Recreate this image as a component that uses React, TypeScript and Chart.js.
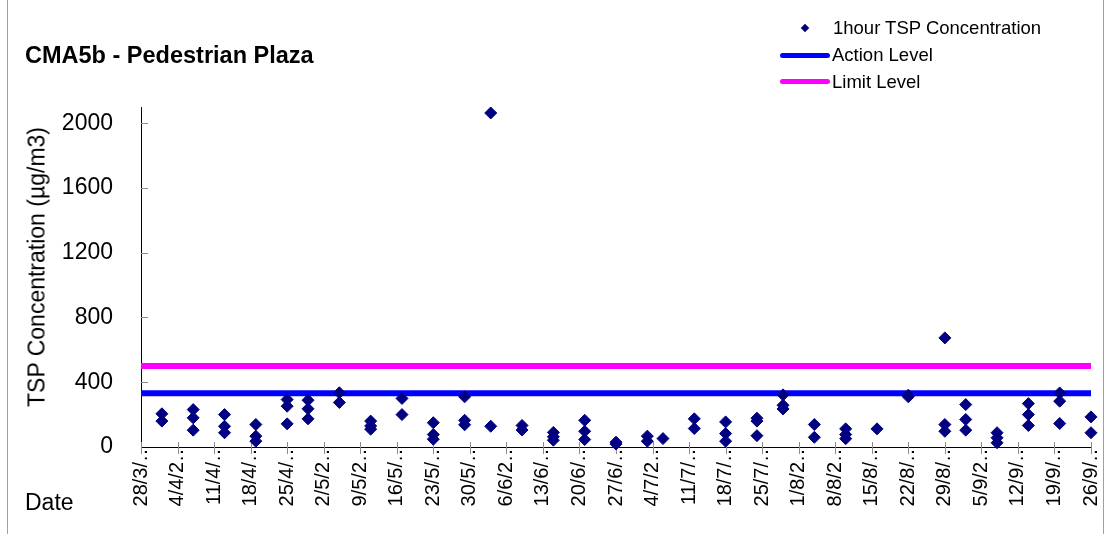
import React, { useEffect, useRef } from "react";
import { Chart, registerables } from "chart.js";

Chart.register(...registerables);

// ---------- data ----------
const START_DATE = "28/3/2022";
const END_DATE = "26/9/2022";

const sampleDates = [
  "1/4/2022", "1/4/2022",
  "7/4/2022", "7/4/2022", "7/4/2022",
  "13/4/2022", "13/4/2022", "13/4/2022",
  "19/4/2022", "19/4/2022", "19/4/2022",
  "25/4/2022", "25/4/2022", "25/4/2022",
  "29/4/2022", "29/4/2022", "29/4/2022",
  "5/5/2022", "5/5/2022",
  "11/5/2022", "11/5/2022", "11/5/2022",
  "17/5/2022", "17/5/2022",
  "23/5/2022", "23/5/2022", "23/5/2022",
  "29/5/2022", "29/5/2022", "29/5/2022",
  "3/6/2022", "3/6/2022",
  "9/6/2022", "9/6/2022",
  "15/6/2022", "15/6/2022", "15/6/2022",
  "21/6/2022", "21/6/2022", "21/6/2022",
  "27/6/2022", "27/6/2022",
  "3/7/2022", "3/7/2022",
  "6/7/2022",
  "12/7/2022", "12/7/2022",
  "18/7/2022", "18/7/2022", "18/7/2022",
  "24/7/2022", "24/7/2022", "24/7/2022",
  "29/7/2022", "29/7/2022", "29/7/2022",
  "4/8/2022", "4/8/2022",
  "10/8/2022", "10/8/2022", "10/8/2022",
  "16/8/2022",
  "22/8/2022", "22/8/2022",
  "29/8/2022", "29/8/2022", "29/8/2022",
  "2/9/2022", "2/9/2022", "2/9/2022",
  "8/9/2022", "8/9/2022", "8/9/2022",
  "14/9/2022", "14/9/2022", "14/9/2022",
  "20/9/2022", "20/9/2022", "20/9/2022",
  "26/9/2022", "26/9/2022",
];

const tspValues = [
  205, 160,
  231, 180, 104,
  200, 128, 88,
  139, 67, 36,
  293, 252, 143,
  289, 236, 174,
  335, 275,
  160, 130, 110,
  300, 200,
  150, 77, 48,
  310, 165, 137,
  2063, 128,
  133, 105,
  90, 63, 42,
  165, 97, 46,
  30, 18,
  67, 36,
  52,
  174, 114,
  155, 83, 36,
  178, 160, 70,
  322, 258, 235,
  139, 60,
  112, 77, 51,
  112,
  320, 310,
  674, 139, 97,
  262, 170, 104,
  88, 57, 26,
  268, 200, 133,
  334, 283, 145,
  186, 88,
];

const xTickLabels = [
  "28/3/…", "4/4/2…", "11/4/…", "18/4/…", "25/4/…", "2/5/2…", "9/5/2…",
  "16/5/…", "23/5/…", "30/5/…", "6/6/2…", "13/6/…", "20/6/…", "27/6/…",
  "4/7/2…", "11/7/…", "18/7/…", "25/7/…", "1/8/2…", "8/8/2…", "15/8/…",
  "22/8/…", "29/8/…", "5/9/2…", "12/9/…", "19/9/…", "26/9/…",
];

const yTickValues = [0, 400, 800, 1200, 1600, 2000];

const ACTION_LEVEL = 332;
const LIMIT_LEVEL = 500;
const Y_MAX = 2100;
const X_STEP_DAYS = 7;

// ---------- helpers ----------
const FONT = "'Liberation Sans', Arial, sans-serif";

function toUtc(d: string): number {
  const [dd, mm, yy] = d.split("/").map(Number);
  return Date.UTC(yy, mm - 1, dd);
}
function dayOffset(d: string): number {
  return Math.round((toUtc(d) - toUtc(START_DATE)) / 86400000);
}

const innerTicks = {
  id: "innerTicks",
  beforeDatasetsDraw(chart: any) {
    const { ctx, chartArea, scales } = chart;
    const x = scales.x;
    const y = scales.y;
    ctx.save();
    ctx.strokeStyle = "#8c8c8c";
    ctx.lineWidth = 1;
    y.ticks.forEach((t: any) => {
      if (t.value === 0) return;
      const py = Math.round(y.getPixelForValue(t.value)) + 0.5;
      ctx.beginPath();
      ctx.moveTo(chartArea.left, py);
      ctx.lineTo(chartArea.left + 7, py);
      ctx.stroke();
    });
    x.ticks.forEach((t: any) => {
      const px = Math.round(x.getPixelForValue(t.value)) + 0.5;
      ctx.beginPath();
      ctx.moveTo(px, chartArea.bottom - 5);
      ctx.lineTo(px, chartArea.bottom + 7);
      ctx.stroke();
    });
    ctx.restore();
  },
};

export default function App() {
  const canvasRef = useRef<HTMLCanvasElement | null>(null);

  useEffect(() => {
    if (!canvasRef.current) return;
    const xMax = dayOffset(END_DATE);
    const points = sampleDates.map((d, i) => ({ x: dayOffset(d), y: tspValues[i] }));

    const chart = new Chart(canvasRef.current, {
      type: "scatter",
      data: {
        datasets: [
          {
            label: "1hour TSP Concentration",
            data: points,
            pointStyle: "rectRot",
            pointRadius: 6,
            pointBackgroundColor: "#000080",
            pointBorderColor: "#000080",
            pointBorderWidth: 1,
            showLine: false,
            clip: false,
          } as any,
          {
            label: "Action Level",
            data: [
              { x: 0, y: ACTION_LEVEL },
              { x: xMax, y: ACTION_LEVEL },
            ],
            showLine: true,
            borderColor: "#0000ff",
            borderWidth: 6,
            pointRadius: 0,
            clip: false,
          } as any,
          {
            label: "Limit Level",
            data: [
              { x: 0, y: LIMIT_LEVEL },
              { x: xMax, y: LIMIT_LEVEL },
            ],
            showLine: true,
            borderColor: "#ff00ff",
            borderWidth: 6,
            pointRadius: 0,
            clip: false,
          } as any,
        ],
      },
      options: {
        animation: false,
        responsive: false,
        layout: { padding: { left: 0, top: 107, right: 20, bottom: 0 } },
        plugins: {
          legend: { display: false },
          title: { display: false },
          tooltip: { enabled: false },
        },
        scales: {
          x: {
            type: "linear",
            min: 0,
            max: xMax,
            grid: { display: false, drawTicks: false },
            border: { display: true, color: "#000000", width: 1 },
            ticks: {
              stepSize: X_STEP_DAYS,
              autoSkip: false,
              minRotation: 90,
              maxRotation: 90,
              padding: -5,
              color: "#000000",
              font: { family: FONT, size: 20 },
              callback: (v: any) => xTickLabels[Math.round(Number(v) / X_STEP_DAYS)] ?? "",
            },
            afterFit: (scale: any) => {
              scale.height = 87;
            },
          },
          y: {
            type: "linear",
            min: 0,
            max: Y_MAX,
            grid: { display: false, drawTicks: false },
            border: { display: true, color: "#000000", width: 1 },
            ticks: {
              autoSkip: false,
              padding: 28,
              color: "#000000",
              font: { family: FONT, size: 23 },
              callback: (v: any) => String(v),
            },
            afterBuildTicks: (scale: any) => {
              scale.ticks = yTickValues.map((v) => ({ value: v }));
            },
            afterFit: (scale: any) => {
              scale.width = 141;
            },
          },
        },
      } as any,
      plugins: [innerTicks],
    });
    return () => chart.destroy();
  }, []);

  const textBase: React.CSSProperties = {
    position: "absolute",
    fontFamily: FONT,
    color: "#000",
    lineHeight: 1,
    whiteSpace: "nowrap",
    margin: 0,
  };

  return (
    <div
      style={{
        position: "fixed",
        left: 0,
        top: 0,
        width: 1111,
        height: 534,
        background: "#fff",
        overflow: "hidden",
      }}
    >
      <canvas ref={canvasRef} width={1111} height={534} style={{ display: "block" }} />
      {/* frame lines */}
      <div style={{ position: "absolute", left: 7, top: 0, width: 1, height: 534, background: "#a0a0a0" }} />
      <div style={{ position: "absolute", left: 1103, top: 0, width: 1, height: 534, background: "#a0a0a0" }} />
      {/* title */}
      <div style={{ ...textBase, left: 25, top: 43.5, fontSize: 23.5, fontWeight: "bold" }}>
        CMA5b - Pedestrian Plaza
      </div>
      {/* y axis title */}
      <div
        style={{
          ...textBase,
          left: 37,
          top: 267,
          fontSize: 23,
          transform: "translate(-50%, -50%) rotate(-90deg)",
        }}
      >
        TSP Concentration (µg/m3)
      </div>
      {/* x axis title */}
      <div style={{ ...textBase, left: 25, top: 491, fontSize: 23 }}>Date</div>
      {/* legend */}
      <div
        style={{
          position: "absolute",
          left: 802,
          top: 25,
          width: 6,
          height: 6,
          background: "#000080",
          transform: "rotate(45deg)",
        }}
      />
      <div style={{ ...textBase, left: 833, top: 19, fontSize: 18.5 }}>1hour TSP Concentration</div>
      <div
        style={{
          position: "absolute",
          left: 780,
          top: 52.5,
          width: 50,
          height: 5,
          borderRadius: 3,
          background: "#0000ff",
        }}
      />
      <div style={{ ...textBase, left: 832, top: 46, fontSize: 18.5 }}>Action Level</div>
      <div
        style={{
          position: "absolute",
          left: 780,
          top: 79,
          width: 50,
          height: 5,
          borderRadius: 3,
          background: "#ff00ff",
        }}
      />
      <div style={{ ...textBase, left: 832, top: 72.5, fontSize: 18.5 }}>Limit Level</div>
    </div>
  );
}
